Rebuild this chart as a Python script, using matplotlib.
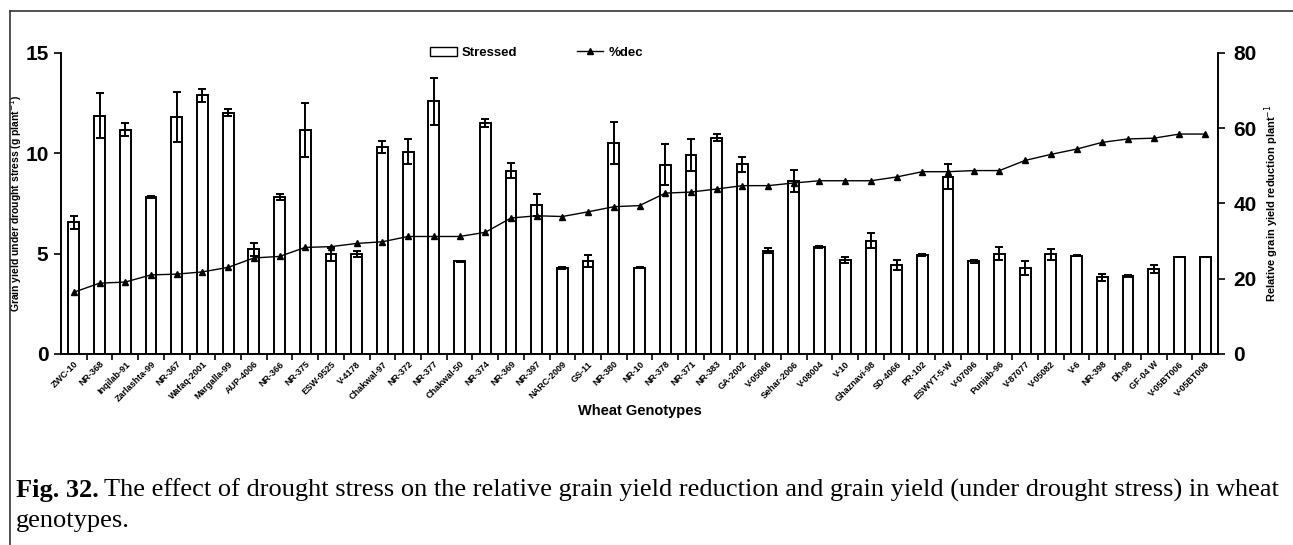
import matplotlib.pyplot as plt
import numpy as np
from matplotlib.lines import Line2D
from matplotlib.patches import Patch

# genotypes, left to right
genotypes = ['ZWC-10', 'NR-368', 'Inqilab-91', 'Zarlashta-99', 'NR-367',
             'Wafaq-2001', 'Margalla-99', 'AUP-4006', 'NR-366', 'NR-375',
             'ESW-9525', 'V-4178', 'Chakwal-97', 'NR-372', 'NR-377',
             'Chakwal-50', 'NR-374', 'NR-369', 'NR-397', 'NARC-2009',
             'GS-11', 'NR-380', 'NR-10', 'NR-378', 'NR-371',
             'NR-383', 'GA-2002', 'V-05066', 'Sehar-2006', 'V-08004',
             'V-10', 'Ghaznavi-98', 'SD-4066', 'PR-102', 'ESWYT-5-W',
             'V-07096', 'Punjab-96', 'V-87077', 'V-05082', 'V-6',
             'NR-398', 'Dh-98', 'GF-04 W', 'V-05BT006', 'V-05BT008']

# grain yield under stress (g/plant) and its error
stressed = [6.55, 11.87, 11.16, 7.82, 11.80, 12.88, 12.02, 5.22, 7.81, 11.17,
            4.97, 4.99, 10.31, 10.08, 12.58, 4.62, 11.49, 9.13, 7.41, 4.29,
            4.61, 10.51, 4.29, 9.43, 9.91, 10.77, 9.45, 5.14, 8.59, 5.34,
            4.69, 5.64, 4.44, 4.91, 8.83, 4.61, 4.99, 4.28, 4.97, 4.89,
            3.81, 3.90, 4.23, 4.82, 4.82]
stressed_err = [0.33, 1.10, 0.33, 0.05, 1.26, 0.33, 0.17, 0.33, 0.15, 1.34,
                0.33, 0.15, 0.31, 0.63, 1.18, 0.03, 0.20, 0.38, 0.55, 0.05,
                0.30, 1.06, 0.03, 1.03, 0.80, 0.17, 0.38, 0.12, 0.55, 0.05,
                0.15, 0.38, 0.25, 0.05, 0.63, 0.08, 0.33, 0.33, 0.27, 0.03,
                0.17, 0.05, 0.22, 0.0, 0.0]

# relative grain yield reduction (%)
pct_dec = [16.4, 18.8, 19.1, 21.0, 21.2, 21.8, 23.0, 25.5, 25.9, 28.3,
           28.5, 29.35, 29.8, 31.2, 31.2, 31.2, 32.3, 36.1, 36.7, 36.5,
           37.75, 39.1, 39.4, 42.7, 43.0, 43.8, 44.7, 44.7, 45.4, 46.0,
           46.0, 46.0, 47.0, 48.4, 48.4, 48.7, 48.7, 51.4, 53.0, 54.4,
           56.2, 57.1, 57.3, 58.4, 58.4]

plt.rcParams['font.family'] = ['Liberation Sans', 'DejaVu Sans']

fig = plt.figure(figsize=(12.93, 5.45), dpi=100)
ax = fig.add_axes([0.0472, 0.3505, 0.8948, 0.5528])
ax2 = ax.twinx()

x = np.arange(len(genotypes))
ax.bar(x, stressed, width=0.42, color='white', edgecolor='black', linewidth=1.4,
       zorder=2)
ax.errorbar(x, stressed, yerr=stressed_err, fmt='none', ecolor='black',
            elinewidth=1.4, capsize=3, capthick=1.4, zorder=3)
ax2.plot(x, pct_dec, color='black', lw=1.0, marker='^', ms=5, zorder=4)

ax.set_xlim(-0.5, len(genotypes) - 0.5)
ax.set_ylim(0, 15)
ax2.set_ylim(0, 80)
ax.set_yticks([0, 5, 10, 15])
ax2.set_yticks([0, 20, 40, 60, 80])

for a in (ax, ax2):
    a.spines['top'].set_visible(False)
    a.spines['left'].set_linewidth(1.2)
    a.spines['right'].set_linewidth(1.2)
    a.spines['bottom'].set_linewidth(1.2)
ax.set_zorder(ax2.get_zorder() - 1)
ax.patch.set_visible(False)
ax2.patch.set_visible(False)

ax.tick_params(axis='y', length=5, width=1.2, labelsize=15, pad=4)
for lab in ax.get_yticklabels():
    lab.set_fontweight('bold')
ax2.tick_params(axis='y', length=5, width=1.2, labelsize=15, pad=6)
for lab in ax2.get_yticklabels():
    lab.set_fontweight('bold')

# labels at bar centres, ticks at the boundaries
ax.set_xticks(x)
ax.set_xticklabels(genotypes, rotation=45, ha='right', rotation_mode='anchor',
                   fontsize=6.5, fontweight='bold')
ax.tick_params(axis='x', which='major', length=0, pad=4)
ax.set_xticks(x[:-1] + 0.5, minor=True)
ax.tick_params(axis='x', which='minor', length=4, width=1.2)

ax.set_xlabel('Wheat Genotypes', fontsize=10.5, fontweight='bold', labelpad=0)
ax.set_ylabel('Grain yield under drought stress (g plant$^{-1}$)', fontsize=7.5,
              fontweight='bold')
ax.yaxis.set_label_coords(-0.032, 0.5)
ax2.set_ylabel('Relative grain yield reduction plant$^{-1}$', fontsize=8,
               fontweight='bold', labelpad=4)

handles = [Patch(facecolor='white', edgecolor='black', linewidth=1.0),
           Line2D([], [], color='black', lw=1.0, marker='^', ms=4)]
fig.legend(handles, ['Stressed', '%dec'], loc='center', ncol=2,
           bbox_to_anchor=(0.415, 0.903), frameon=False,
           prop={'weight': 'bold', 'size': 9.5}, columnspacing=4.5,
           handlelength=2.0, handletextpad=0.4)

# outer frame lines
fig.add_artist(Line2D([10 / 1293, 10 / 1293], [0, 1 - 10.5 / 545],
                      transform=fig.transFigure, color='#333333', lw=1.2))
fig.add_artist(Line2D([10 / 1293, 1], [1 - 10.5 / 545, 1 - 10.5 / 545],
                      transform=fig.transFigure, color='#333333', lw=1.2))

# caption
fig.canvas.draw()
r = fig.canvas.get_renderer()
cap_font = ['Liberation Serif', 'DejaVu Serif']
t1 = fig.text(16 / 1293, 1 - 490 / 545, 'Fig. 32.', fontsize=19,
              fontweight='bold', family=cap_font, va='center')
bb = t1.get_window_extent(renderer=r)
fig.text(bb.x1 / 1293 + 0.004, 1 - 490 / 545,
         'The effect of drought stress on the relative grain yield reduction '
         'and grain yield (under drought stress) in wheat',
         fontsize=19, family=cap_font, va='center')
fig.text(16 / 1293, 1 - 521 / 545, 'genotypes.', fontsize=19,
         family=cap_font, va='center')

fig.savefig('out.png', dpi=100)
